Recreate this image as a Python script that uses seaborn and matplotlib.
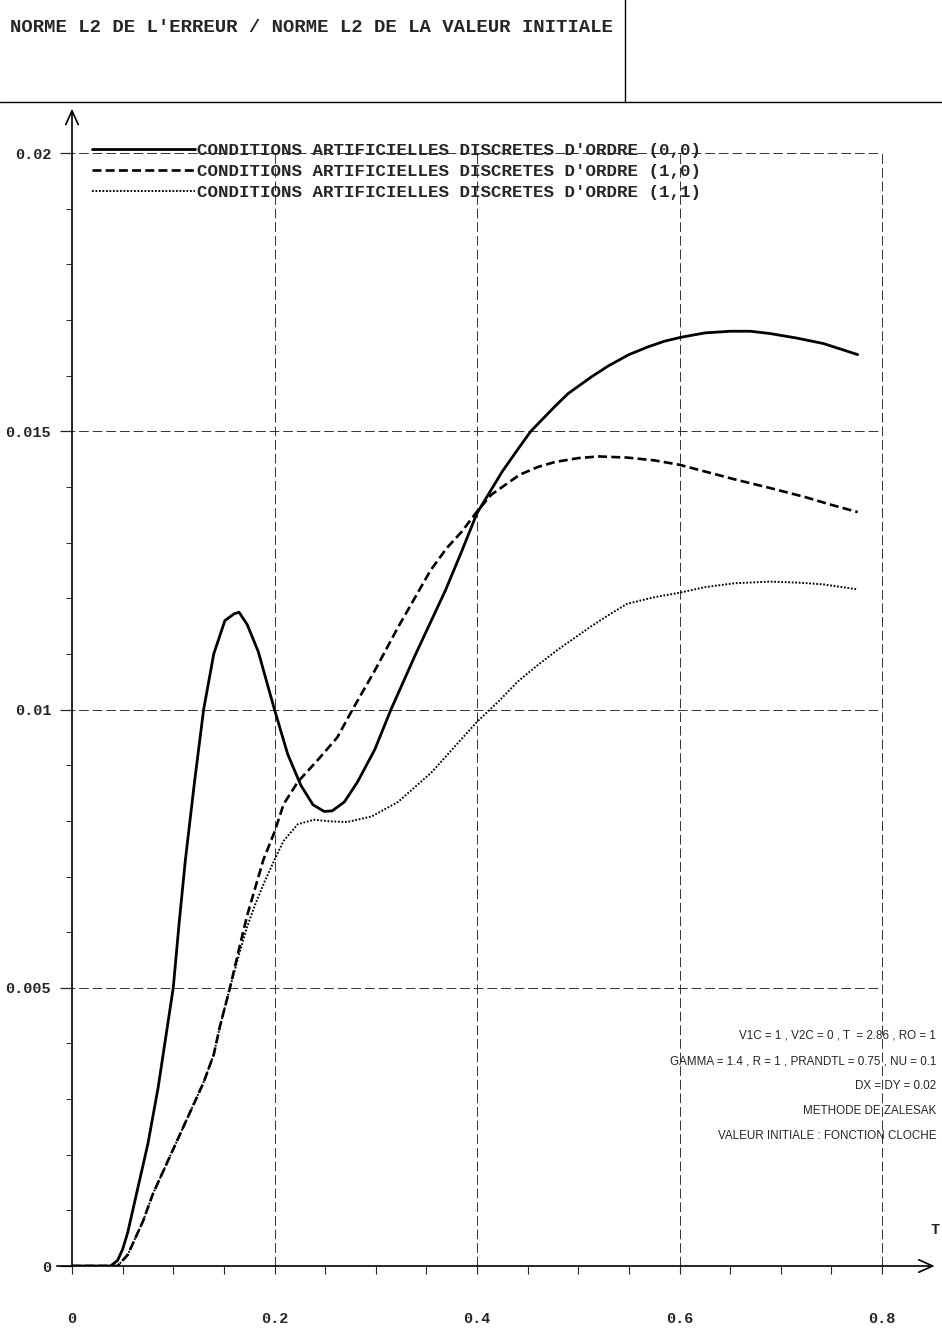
import numpy as np
import matplotlib
matplotlib.use("Agg")
import matplotlib.pyplot as plt
from matplotlib.lines import Line2D
from matplotlib.ticker import FixedLocator, MultipleLocator
import seaborn as sns

#%% Data
t_00 = [0, 0.02, 0.038, 0.045, 0.05, 0.055, 0.06, 0.065, 0.07, 0.075, 0.08, 0.085, 0.09, 0.095,
        0.1, 0.106, 0.112, 0.121, 0.13, 0.14, 0.151, 0.16, 0.165, 0.173, 0.184, 0.2, 0.213, 0.226,
        0.238, 0.249, 0.257, 0.269, 0.282, 0.299, 0.315, 0.339, 0.369, 0.385, 0.4, 0.425, 0.44, 0.453,
        0.477, 0.49, 0.513, 0.53, 0.55, 0.569, 0.585, 0.601, 0.625, 0.65, 0.67, 0.689, 0.715, 0.742, 0.776]
v_00 = [0, 0, 0, 0.0001, 0.0003, 0.0006, 0.001, 0.0014, 0.0018, 0.0022, 0.0027, 0.0032, 0.0038, 0.0044,
        0.005, 0.0062, 0.0073, 0.0087, 0.0100, 0.0110, 0.0116, 0.01172, 0.01175, 0.01153, 0.01104, 0.0100,
        0.0092, 0.00864, 0.00829, 0.00817, 0.00818, 0.00834, 0.0087, 0.00928, 0.0100, 0.01098, 0.01215,
        0.01285, 0.01353, 0.01428, 0.01467, 0.0150, 0.01545, 0.01568, 0.01598, 0.01618, 0.01638, 0.01652,
        0.01662, 0.01669, 0.01677, 0.0168, 0.0168, 0.01676, 0.01668, 0.01658, 0.01638]

t_10 = [0, 0.02, 0.045, 0.05, 0.055, 0.06, 0.07, 0.08, 0.09, 0.1, 0.11, 0.12, 0.13, 0.14, 0.146,
        0.156, 0.165, 0.173, 0.181, 0.189, 0.2, 0.209, 0.223, 0.243, 0.262, 0.277, 0.299, 0.322,
        0.344, 0.354, 0.37, 0.385, 0.4, 0.414, 0.442, 0.46, 0.477, 0.5, 0.52, 0.548, 0.575, 0.6,
        0.625, 0.654, 0.69, 0.724, 0.75, 0.776]
v_10 = [0, 0, 0, 0.0001, 0.0002, 0.0004, 0.0008, 0.0013, 0.0017, 0.0021, 0.0025, 0.0029, 0.0033, 0.0038,
        0.0043, 0.0050, 0.0057, 0.0063, 0.0068, 0.0073, 0.0078, 0.0083, 0.0087, 0.0091, 0.0095, 0.0100,
        0.0107, 0.01148, 0.01218, 0.0125, 0.0129, 0.0132, 0.01356, 0.01386, 0.01422, 0.01436, 0.01445,
        0.01452, 0.01455, 0.01453, 0.01448, 0.0144, 0.01428, 0.01414, 0.01398, 0.01382, 0.01368, 0.01355]

t_11 = [0, 0.02, 0.045, 0.05, 0.055, 0.06, 0.07, 0.08, 0.09, 0.1, 0.11, 0.12, 0.13, 0.14, 0.146,
        0.156, 0.165, 0.173, 0.181, 0.19, 0.2, 0.209, 0.223, 0.239, 0.256, 0.272, 0.296, 0.322, 0.355,
        0.4, 0.422, 0.44, 0.46, 0.48, 0.513, 0.53, 0.548, 0.575, 0.6, 0.625, 0.654, 0.689, 0.72,
        0.742, 0.776]
v_11 = [0, 0, 0, 0.0001, 0.0002, 0.0004, 0.0008, 0.0013, 0.0017, 0.0021, 0.0025, 0.0029, 0.0033, 0.0038,
        0.0043, 0.0050, 0.0056, 0.0061, 0.0065, 0.0069, 0.0073, 0.00764, 0.00794, 0.00802, 0.00799,
        0.00798, 0.00808, 0.00834, 0.00887, 0.00978, 0.01016, 0.0105, 0.0108, 0.01108, 0.0115, 0.0117,
        0.0119, 0.01202, 0.0121, 0.0122, 0.01227, 0.0123, 0.01228, 0.01225, 0.01216]

labels = ["CONDITIONS ARTIFICIELLES DISCRETES D'ORDRE (0,0)",
          "CONDITIONS ARTIFICIELLES DISCRETES D'ORDRE (1,0)",
          "CONDITIONS ARTIFICIELLES DISCRETES D'ORDRE (1,1)"]
x_ticks = [0, 0.2, 0.4, 0.6, 0.8]
x_ticklabels = ["0", "0.2", "0.4", "0.6", "0.8"]
y_ticks = [0, 0.005, 0.01, 0.015, 0.02]
y_ticklabels = ["0", "0.005", "0.01", "0.015", "0.02"]
x_minor = [0.05, 0.1, 0.15, 0.25, 0.3, 0.35, 0.45, 0.5, 0.55, 0.65, 0.7, 0.75]
title = "NORME L2 DE L'ERREUR / NORME L2 DE LA VALEUR INITIALE"
notes = ["V1C = 1 , V2C = 0 , T  = 2.86 , RO = 1",
         "GAMMA = 1.4 , R = 1 , PRANDTL = 0.75 , NU = 0.1",
         "DX = DY = 0.02",
         "METHODE DE ZALESAK",
         "VALEUR INITIALE : FONCTION CLOCHE"]

#%% Style
sns.set_style("white")
plt.rcParams['font.family'] = ['Liberation Mono', 'DejaVu Sans']

W, H = 942, 1331
fig = plt.figure(figsize=(W / 100, H / 100), dpi=100)
x0, y0 = 72, 1266          # pixel of origin
px_x = 1012.5              # pixels per unit T
px_y = 55640               # pixels per unit of error ratio
xmax, ymax = 0.852, 0.0208
ax = fig.add_axes([x0 / W, (H - y0) / H, xmax * px_x / W, ymax * px_y / H])
ax.set_xlim(0, xmax)
ax.set_ylim(0, ymax)
for s in ax.spines.values():
    s.set_visible(False)

# grid restricted to [0, 0.8] x [0, 0.02]
ax.hlines(y_ticks[1:], -0.007, 0.8, colors='#333333', linewidth=0.7, linestyles=(0, (10, 4)))
ax.vlines(x_ticks[1:], 0, 0.02, colors='#333333', linewidth=0.7, linestyles=(0, (10, 4)))

# axes with arrows
ax.annotate('', xy=(xmax, 0), xytext=(-0.015, 0), xycoords='data',
            arrowprops=dict(arrowstyle='->,head_length=1.0,head_width=0.45', lw=1.2, color='black',
                            shrinkA=0, shrinkB=0), annotation_clip=False)
ax.annotate('', xy=(0, ymax), xytext=(0, 0), xycoords='data',
            arrowprops=dict(arrowstyle='->,head_length=1.0,head_width=0.45', lw=1.2, color='black',
                            shrinkA=0, shrinkB=0), annotation_clip=False)

#%% Curves
sns.lineplot(x=t_00, y=v_00, ax=ax, color='black', lw=2.0, label=labels[0], sort=False)
sns.lineplot(x=t_10, y=v_10, ax=ax, color='black', lw=1.9, linestyle=(0, (3.4, 1.6)),
             label=labels[1], sort=False)
sns.lineplot(x=t_11, y=v_11, ax=ax, color='black', lw=1.4, linestyle=(0, (0.9, 0.9)),
             label=labels[2], sort=False)

leg = ax.legend(loc='upper left', bbox_to_anchor=(92 / W, (H - 143) / H),
                bbox_transform=fig.transFigure, frameon=False, borderpad=0, borderaxespad=0,
                handlelength=5.9, handletextpad=0.1, labelspacing=0.32,
                prop=dict(family='Liberation Mono', weight='bold', size=12.6))

#%% Ticks
ax.xaxis.set_major_locator(FixedLocator(x_ticks))
ax.xaxis.set_minor_locator(FixedLocator(x_minor))
ax.set_xticklabels(x_ticklabels)
ax.yaxis.set_major_locator(FixedLocator(y_ticks))
ax.yaxis.set_minor_locator(MultipleLocator(0.001))
ax.set_yticklabels(y_ticklabels)
ax.tick_params(axis='x', which='major', direction='out', length=6, width=0.8, pad=27,
               bottom=True, labelsize=11)
ax.tick_params(axis='x', which='minor', direction='out', length=6, width=0.8, bottom=True)
ax.tick_params(axis='y', which='major', direction='out', length=9, width=0.9, pad=6,
               left=True, labelsize=11)
ax.tick_params(axis='y', which='minor', direction='out', length=4, width=0.7, left=True)
for lab in ax.get_xticklabels() + ax.get_yticklabels():
    lab.set_fontweight('bold')

ax.text(0.852, 0.00065, "T", fontsize=11, fontweight='bold', ha='center', va='center')

#%% Header and notes
fig.add_artist(Line2D([0, 1], [(H - 102) / H] * 2, color='black', lw=1.0))
fig.add_artist(Line2D([625 / W] * 2, [(H - 102) / H, 1], color='black', lw=1.0))
fig.text(10 / W, (H - 28) / H, title, fontsize=13.7, fontweight='bold', ha='left', va='center')

for i, line in enumerate(notes):
    fig.text(936 / W, (H - 1036 - 25 * i) / H, line, fontsize=8.4, family='Liberation Sans',
             ha='right', va='center')

fig.savefig("out.png", dpi=100, facecolor='white')
